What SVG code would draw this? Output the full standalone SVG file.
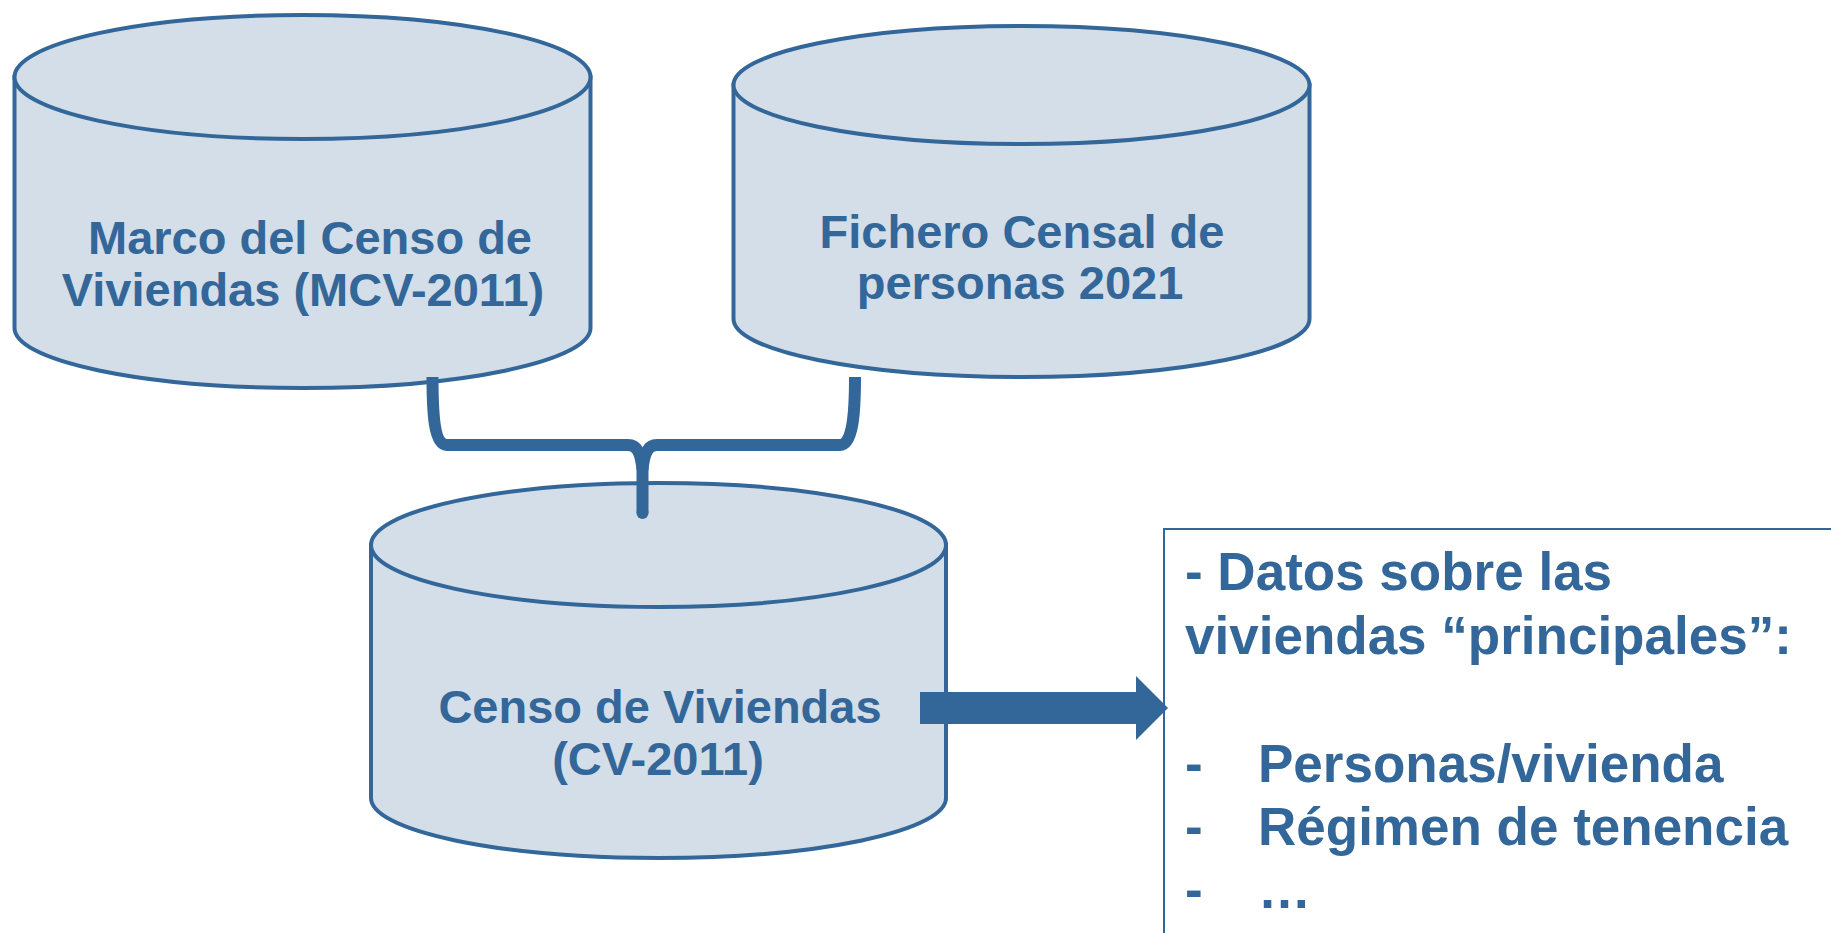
<svg xmlns="http://www.w3.org/2000/svg" width="1831" height="933" viewBox="0 0 1831 933">
<style>
.cyl{fill:#D3DEE8;stroke:#336699;stroke-width:4;}
.lbl{font-family:"Liberation Sans",Arial,sans-serif;font-weight:bold;font-size:47px;fill:#336699;text-anchor:middle;}
.box{font-family:"Liberation Sans",Arial,sans-serif;font-weight:bold;font-size:53px;fill:#336699;}
.conn{fill:none;stroke:#336699;stroke-width:12;stroke-linejoin:round;}
</style>
<rect width="1831" height="933" fill="#FFFFFF"/>
<g id="node-mcv">
<path class="cyl" d="M14.5 77 V328 A288 60 0 0 0 590.5 328 V77 Z"/>
<ellipse class="cyl" cx="302.5" cy="77" rx="288" ry="62"/>
<text class="lbl" x="310" y="254">Marco del Censo de</text>
<text class="lbl" x="303" y="306">Viviendas (MCV-2011)</text>
</g>
<g id="node-fichero">
<path class="cyl" d="M733.5 85 V319 A288 58 0 0 0 1309.5 319 V85 Z"/>
<ellipse class="cyl" cx="1021.5" cy="85" rx="288" ry="59"/>
<text class="lbl" x="1022" y="248">Fichero Censal de</text>
<text class="lbl" x="1020" y="299">personas 2021</text>
</g>
<g id="node-cv">
<path class="cyl" d="M371 545 V798 A287.5 60 0 0 0 946 798 V545 Z"/>
<ellipse class="cyl" cx="658.5" cy="545" rx="287.5" ry="62"/>
<text class="lbl" x="660" y="723">Censo de Viviendas</text>
<text class="lbl" x="658" y="775">(CV-2011)</text>
</g>
<g id="node-datos">
<rect x="1164" y="529" width="700" height="450" fill="#FFFFFF" stroke="#336699" stroke-width="2"/>
<text class="box" x="1185" y="590">- Datos sobre las</text>
<text class="box" x="1185" y="654">viviendas “principales”:</text>
<text class="box" x="1185" y="782">-</text>
<text class="box" x="1258" y="782">Personas/vivienda</text>
<text class="box" x="1185" y="845">-</text>
<text class="box" x="1258" y="845">Régimen de tenencia</text>
<text class="box" x="1185" y="908">-</text>
<text class="box" x="1258" y="908">…</text>
</g>
<g id="connectors">
<path class="conn" d="M432.5 377 C432.5 412 434 445 447 445 L628 445 C637 445 641 453 642.5 470 L642.5 513"/>
<path class="conn" d="M855 377 C855 412 853 445 840 445 L657 445 C648 445 644 453 642.5 470"/>
<circle cx="642.5" cy="513" r="6" fill="#336699"/>
<polygon points="920,692 1136,692 1136,676 1168,708 1136,740 1136,724 920,724" fill="#336699"/>
</g>
</svg>
